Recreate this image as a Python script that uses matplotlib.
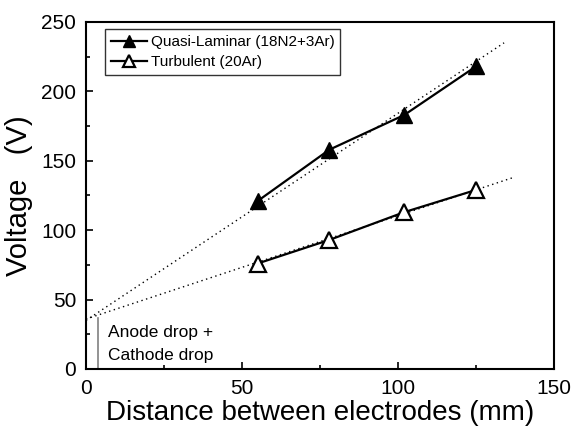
import numpy as np
import matplotlib.pyplot as plt
from matplotlib.ticker import MultipleLocator

plt.rcParams['font.family'] = ['Liberation Sans', 'DejaVu Sans']

distance = [55, 78, 102, 125]
v_laminar = [121, 158, 183, 218]
v_turbulent = [76, 93, 113, 129]

# linear fits drawn as dotted lines
fit_lam_x = [0, 134]
fit_lam_y = [35, 235]
fit_tur_x = [0, 137]
fit_tur_y = [36, 138]

drop_x = [3.7, 3.7]
drop_y = [0, 37]

fig = plt.figure(figsize=(5.74, 4.32), dpi=100)
ax = fig.add_axes([86/574, 1-369/432, (554-86)/574, (369-22)/432])

ax.plot(fit_lam_x, fit_lam_y, ls=(0, (1, 2.5)), color='black', lw=1.0)
ax.plot(fit_tur_x, fit_tur_y, ls=(0, (1, 2.5)), color='black', lw=1.0)
ax.plot(drop_x, drop_y, color='gray', lw=1.2)

ax.plot(distance, v_laminar, '-^', color='black', lw=1.6, ms=11,
        mfc='black', label='Quasi-Laminar (18N2+3Ar)')
ax.plot(distance, v_turbulent, '-^', color='black', lw=1.6, ms=11,
        mfc='white', mew=1.6, label='Turbulent (20Ar)')

ax.text(7, 26, 'Anode drop +', fontsize=12.5, va='center')
ax.text(7, 10, 'Cathode drop', fontsize=12.5, va='center')

ax.set_xlim(0, 150)
ax.set_ylim(0, 250)
ax.xaxis.set_major_locator(MultipleLocator(50))
ax.xaxis.set_minor_locator(MultipleLocator(25))
ax.yaxis.set_major_locator(MultipleLocator(50))
ax.yaxis.set_minor_locator(MultipleLocator(25))
ax.tick_params(which='both', direction='in', labelsize=15, width=1.2)
ax.tick_params(which='major', length=5, pad=7)
ax.tick_params(which='minor', length=3)
for s in ax.spines.values():
    s.set_linewidth(1.5)

ax.set_xlabel('Distance between electrodes (mm)', fontsize=20, labelpad=2)
ax.set_ylabel('Voltage   (V)', fontsize=21, labelpad=6)

leg = ax.legend(loc='upper left', frameon=True, fancybox=False, fontsize=11,
                edgecolor='black', borderpad=0.4, labelspacing=0.4,
                handlelength=2.4, handletextpad=0.2, borderaxespad=0,
                markerscale=0.85, bbox_to_anchor=(0.04, 0.98))
leg.get_frame().set_linewidth(1.0)

fig.savefig('out.png', dpi=100)
